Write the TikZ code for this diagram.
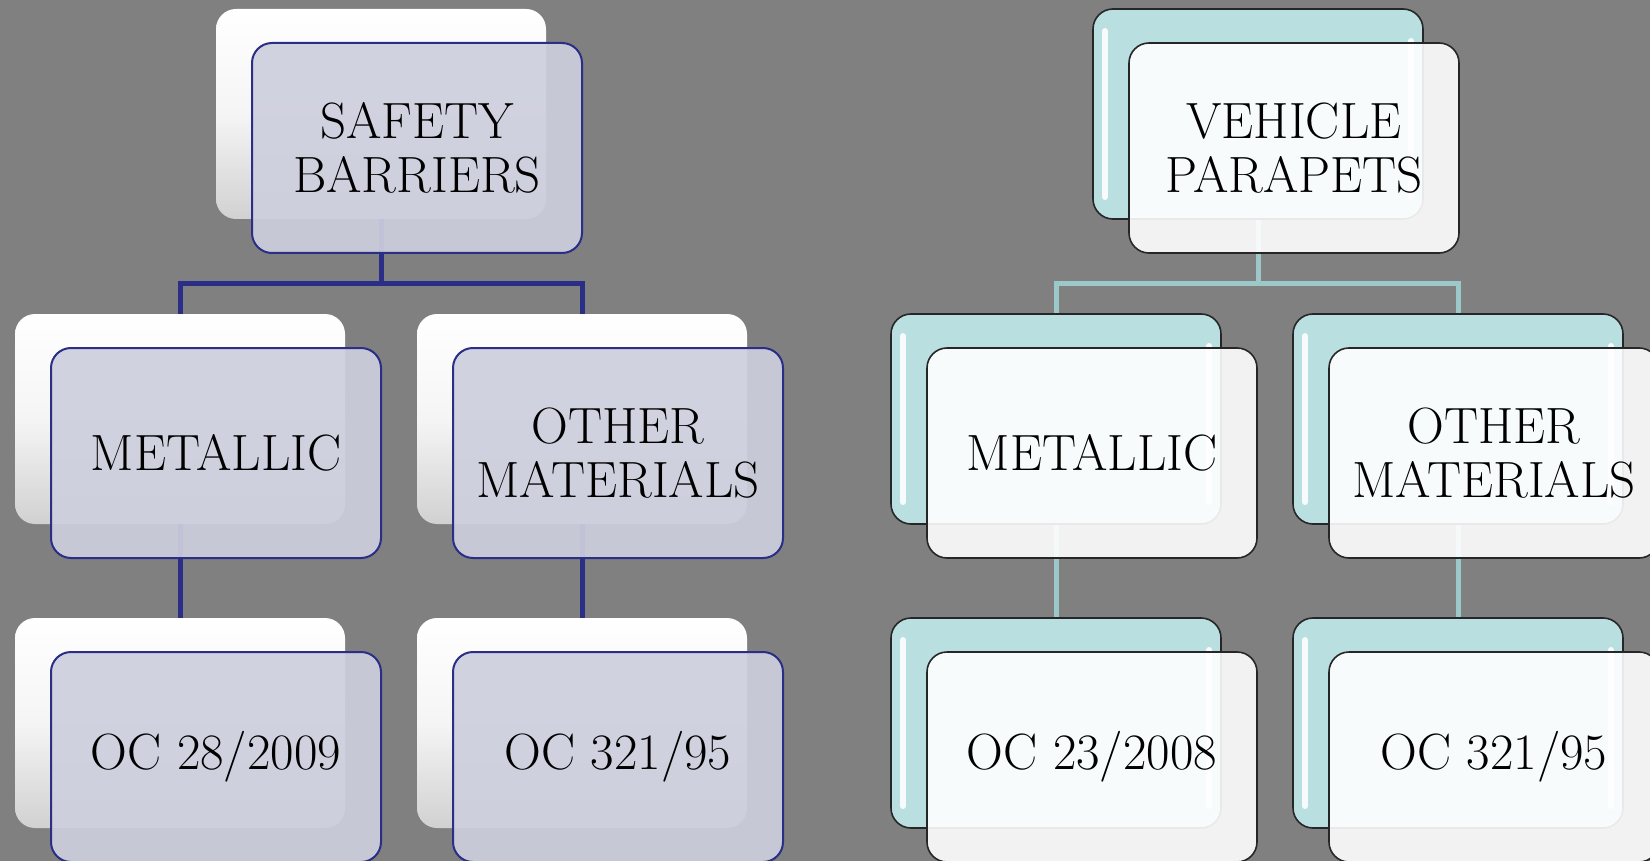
\documentclass[tikz,border=0pt]{standalone}
\usetikzlibrary{calc,backgrounds}

\definecolor{bggray}{HTML}{808080}
\definecolor{navy}{HTML}{2A2E86}
\definecolor{lavender}{RGB}{206,207,222}
\definecolor{aqua}{HTML}{B9DFE1}
\definecolor{aqualine}{HTML}{9CC8CA}

\tikzset{
  box/.style={rounded corners=20pt, minimum width=330pt, minimum height=210pt,
    inner sep=0pt, outer sep=0pt},
  boxtext/.style={font=\fontsize{51}{54}\selectfont, align=center, text opacity=1},
  lback/.style={box, top color=white, bottom color=black!18, middle color=white!96!black},
  lfront/.style={box, boxtext, draw=navy, line width=2pt, fill=lavender, fill opacity=0.92},
  rback/.style={box, draw=black!85, line width=1.6pt, fill=aqua},
  rfront/.style={box, boxtext, draw=black!85, line width=1.6pt, fill=white, fill opacity=0.9},
  lconn/.style={navy, line width=5pt},
  rconn/.style={aqualine, line width=5pt},
  gloss/.style={white, line width=6pt, line cap=round, opacity=0.9},
}

\begin{document}
\begin{tikzpicture}[x=1pt,y=-1pt]
    \useasboundingbox (0,0) rectangle (1650,861);

    % Hintere Kaesten
    \node[lback] (sbb)   at (381,114)  {};
    \node[lback] (lmetb) at (180,419)  {};
    \node[lback] (lothb) at (582,419)  {};
    \node[lback] (locab) at (180,723)  {};
    \node[lback] (locbb) at (582,723)  {};

    \node[rback] (vpb)   at (1258,114) {};
    \node[rback] (rmetb) at (1056,419) {};
    \node[rback] (rothb) at (1458,419) {};
    \node[rback] (rocab) at (1056,723) {};
    \node[rback] (rocbb) at (1458,723) {};

    % Glanzstreifen
    \foreach \b in {vpb,rmetb,rothb,rocab,rocbb} {
        \draw[gloss] ([shift={(12,22)}]\b.north west) -- ([shift={(12,-22)}]\b.south west);
        \draw[gloss] ([shift={(-12,32)}]\b.north east) -- ([shift={(-12,-22)}]\b.south east);
    }

    % Vordere Kaesten mit Text
    \def\dx{36}
    \def\dy{34}
    \node[lfront] (sb)   at ([shift={(\dx,\dy)}]sbb.center)   {SAFETY\\BARRIERS};
    \node[lfront] (lmet) at ([shift={(\dx,\dy)}]lmetb.center) {METALLIC};
    \node[lfront] (loth) at ([shift={(\dx,\dy)}]lothb.center) {OTHER\\MATERIALS};
    \node[lfront] (loca) at ([shift={(\dx,\dy)}]locab.center) {OC 28/2009};
    \node[lfront] (locb) at ([shift={(\dx,\dy)}]locbb.center) {OC 321/95};

    \node[rfront] (vp)   at ([shift={(\dx,\dy)}]vpb.center)   {VEHICLE\\PARAPETS};
    \node[rfront] (rmet) at ([shift={(\dx,\dy)}]rmetb.center) {METALLIC};
    \node[rfront] (roth) at ([shift={(\dx,\dy)}]rothb.center) {OTHER\\MATERIALS};
    \node[rfront] (roca) at ([shift={(\dx,\dy)}]rocab.center) {OC 23/2008};
    \node[rfront] (rocb) at ([shift={(\dx,\dy)}]rocbb.center) {OC 321/95};

    % Hintergrund und Verbindungen
    \begin{scope}[on background layer]
        \fill[bggray] (0,0) rectangle (1650,861);

        \coordinate (lbus) at ($(sb.south)!.5!(lmetb.north)$);
        \draw[lconn] (sbb.center) -- (sbb.center |- lbus) -| (lmetb.north);
        \draw[lconn] (sbb.center |- lbus) -| (lothb.north);
        \draw[lconn] (lmetb.center) -- (locab.north);
        \draw[lconn] (lothb.center) -- (locbb.north);

        \coordinate (rbus) at ($(vp.south)!.5!(rmetb.north)$);
        \draw[rconn] (vpb.center) -- (vpb.center |- rbus) -| (rmetb.north);
        \draw[rconn] (vpb.center |- rbus) -| (rothb.north);
        \draw[rconn] (rmetb.center) -- (rocab.north);
        \draw[rconn] (rothb.center) -- (rocbb.north);
    \end{scope}
\end{tikzpicture}
\end{document}
